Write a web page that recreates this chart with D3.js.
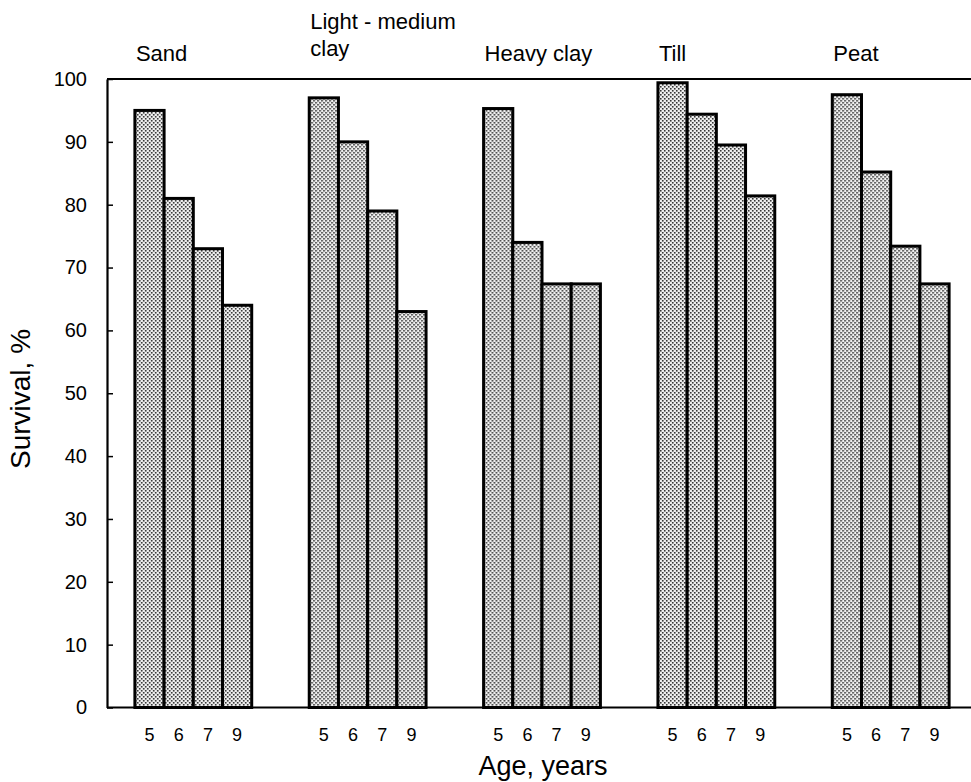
<!DOCTYPE html>
<html>
<head>
<meta charset="utf-8">
<script src="https://cdn.jsdelivr.net/npm/d3@7"></script>
<style>
  html, body { margin: 0; padding: 0; background: #fff; }
  #chart { width: 971px; height: 782px; }
  text { font-family: "Liberation Sans", Arial, Helvetica, sans-serif; fill: #000; }
</style>
</head>
<body>
<div id="chart"></div>
<script>
// Survival (%) by soil type and age (years)

const soils = ["Sand", "Light - medium clay", "Heavy clay", "Till", "Peat"];
const soilTitles = [["Sand"], ["Light - medium", "clay"], ["Heavy clay"], ["Till"], ["Peat"]];
const ages = ["5", "6", "7", "9"];

const sand = [95, 81, 73, 64];
const lightMediumClay = [97, 90, 79, 63];
const heavyClay = [95.3, 74, 67.4, 67.4];
const till = [99.4, 94.4, 89.5, 81.4];
const peat = [97.5, 85.2, 73.4, 67.4];

const yTicks = [0, 10, 20, 30, 40, 50, 60, 70, 80, 90, 100];

const seriesBySoil = [sand, lightMediumClay, heavyClay, till, peat];

const width = 971;
const height = 782;
const margin = { top: 79, right: 0, bottom: 74, left: 107 };

const svg = d3.select("#chart")
  .append("svg")
  .attr("width", width)
  .attr("height", height);

// dotted grey fill, like the halftone of the print
const defs = svg.append("defs");
const pat = defs.append("pattern")
  .attr("id", "dots")
  .attr("patternUnits", "userSpaceOnUse")
  .attr("width", 4)
  .attr("height", 4);
pat.append("rect").attr("width", 4).attr("height", 4).attr("fill", "#f0f0f0");
pat.append("rect").attr("x", 0).attr("y", 0).attr("width", 1.6).attr("height", 1.6).attr("fill", "#333");
pat.append("rect").attr("x", 2).attr("y", 2).attr("width", 1.6).attr("height", 1.6).attr("fill", "#333");

const x0 = d3.scaleBand()
  .domain(soils)
  .range([margin.left, 977])
  .paddingInner(0.33)
  .paddingOuter(0.16);

const x1 = d3.scaleBand()
  .domain(ages)
  .range([0, x0.bandwidth()])
  .padding(0);

const y = d3.scaleLinear()
  .domain([0, 100])
  .range([height - margin.bottom - 0.5, margin.top]);

// frame: top line runs to the right edge
svg.append("line")
  .attr("x1", margin.left).attr("x2", width)
  .attr("y1", y(100)).attr("y2", y(100))
  .attr("stroke", "#000").attr("stroke-width", 1.8);

// bars
const groups = svg.selectAll("g.soil")
  .data(soils)
  .enter()
  .append("g")
  .attr("class", "soil")
  .attr("transform", d => `translate(${x0(d)},0)`);

groups.selectAll("rect")
  .data((d, i) => seriesBySoil[i].map((v, j) => ({ age: ages[j], value: v })))
  .enter()
  .append("rect")
  .attr("x", d => x1(d.age))
  .attr("y", d => y(d.value))
  .attr("width", x1.bandwidth())
  .attr("height", d => y(0) - y(d.value))
  .attr("fill", "url(#dots)")
  .attr("stroke", "#000")
  .attr("stroke-width", 3);

// age labels under each bar
groups.selectAll("text.age")
  .data(ages)
  .enter()
  .append("text")
  .attr("class", "age")
  .attr("x", d => x1(d) + x1.bandwidth() / 2)
  .attr("y", 741)
  .attr("text-anchor", "middle")
  .style("font-size", "18px")
  .text(d => d);

// soil titles above the frame
groups.each(function (d, i) {
  const lines = soilTitles[i];
  const base = lines.length > 1 ? 56 : 61;
  lines.forEach((line, k) => {
    d3.select(this).append("text")
      .attr("x", 1)
      .attr("y", base - (lines.length - 1 - k) * 27)
      .style("font-size", "22px")
      .text(line);
  });
});

// baseline
svg.append("line")
  .attr("x1", margin.left).attr("x2", width)
  .attr("y1", y(0)).attr("y2", y(0))
  .attr("stroke", "#000").attr("stroke-width", 2.2);

// Y axis, ticks pointing inward
const yAxisG = svg.append("g")
  .attr("transform", `translate(${margin.left},0)`)
  .call(
    d3.axisLeft(y)
      .tickValues(yTicks)
      .tickSizeInner(-6)
      .tickSizeOuter(0)
      .tickPadding(20)
  );
yAxisG.select(".domain").attr("stroke-width", 2.2);
yAxisG.selectAll(".tick line").attr("stroke-width", 1.5);
yAxisG.selectAll(".tick text")
  .style("font-size", "20px")
  .style("font-family", "\"Liberation Sans\", Arial, sans-serif");

// axis titles
svg.append("text")
  .attr("x", 543)
  .attr("y", 775)
  .attr("text-anchor", "middle")
  .style("font-size", "27px")
  .text("Age, years");

svg.append("text")
  .attr("transform", "translate(30,399) rotate(-90)")
  .attr("text-anchor", "middle")
  .style("font-size", "28px")
  .text("Survival, %");
</script>
</body>
</html>
